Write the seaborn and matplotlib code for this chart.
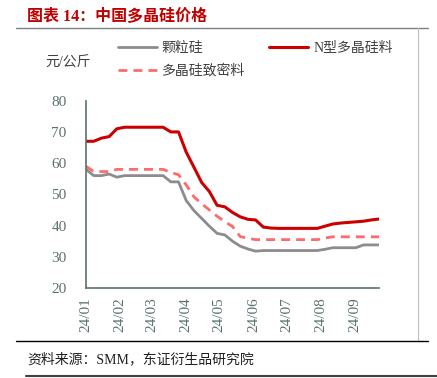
import pandas as pd
import numpy as np
import matplotlib
matplotlib.use("Agg")
import matplotlib.pyplot as plt
import matplotlib.dates as mdates
from matplotlib.lines import Line2D
import seaborn as sns

# weekly readings (Mondays), yuan/kg
dates = pd.date_range("2024-01-01", "2024-09-23", freq="7D")
granular = [58, 56, 56, 56.5, 55.5, 56, 56, 56, 56, 56, 56, 54, 54,
            48, 44.8, 42.3, 39.8, 37.5, 37, 35, 33.4, 32.5, 31.8, 32, 32,
            32, 32, 32, 32, 32, 32, 32.4, 32.9, 32.9, 32.9, 32.9, 33.8, 33.8, 33.8]
n_type = [67, 67, 68, 68.5, 71, 71.5, 71.5, 71.5, 71.5, 71.5, 71.5, 70, 70,
          63.5, 58.7, 53.8, 50.9, 46.5, 46, 44.2, 42.8, 42, 41.8, 39.5, 39.2,
          39.1, 39.1, 39.1, 39.1, 39.1, 39.1, 39.8, 40.5, 40.8, 41, 41.2, 41.4, 41.8, 42.1]
dense = [59, 57.3, 57.3, 57.3, 58, 58, 58, 58, 58, 58, 58, 57, 56.3,
         53, 49.2, 47, 45, 43, 41.3, 39.7, 36.5, 35.9, 35.5, 35.5, 35.5,
         35.5, 35.5, 35.5, 35.5, 35.5, 35.5, 36, 36.4, 36.4, 36.4, 36.4, 36.4, 36.4, 36.4]

df = pd.DataFrame({"date": dates, "颗粒硅": granular,
                   "N型多晶硅料": n_type, "多晶硅致密料": dense})

sns.set_style("white")
plt.rcParams["font.family"] = ["Liberation Serif", "Noto Sans CJK SC", "DejaVu Sans"]

axis_color = "#5b7070"
fig = plt.figure(figsize=(4.37, 3.78), dpi=100)
ax = fig.add_axes([86 / 437, 1 - 288 / 378, (379 - 86) / 437, (288 - 100.7) / 378])

sns.lineplot(data=df, x="date", y="颗粒硅", ax=ax, color="#8c8c8c", lw=2.0, label="颗粒硅")
sns.lineplot(data=df, x="date", y="多晶硅致密料", ax=ax, color="#ff6b6b", lw=2.0,
             label="多晶硅致密料")
sns.lineplot(data=df, x="date", y="N型多晶硅料", ax=ax, color="#cc0000", lw=2.2,
             label="N型多晶硅料")
ax.lines[1].set_dashes([3.2, 2.2])

ax.set_xlim(pd.Timestamp("2024-01-01"), pd.Timestamp("2024-09-23"))
ax.set_ylim(20, 80)
ax.set_yticks(range(20, 81, 10))
ax.xaxis.set_major_locator(mdates.MonthLocator())
ax.xaxis.set_major_formatter(mdates.DateFormatter("%y/%m"))
ax.set_xlabel("")
ax.set_ylabel("")
for lab in ax.get_xticklabels():
    lab.set_rotation(90)
ax.tick_params(direction="in", length=4, width=1, color=axis_color,
               labelcolor=axis_color, labelsize=11)
ax.tick_params(axis="y", pad=14)
ax.tick_params(axis="x", pad=7)
sns.despine(ax=ax)
for s in ["left", "bottom"]:
    ax.spines[s].set_color(axis_color)
    ax.spines[s].set_linewidth(1.2)

h, l = ax.get_legend_handles_labels()
leg = ax.legend(h, l, ncol=2,
                loc="upper left", bbox_to_anchor=(118 / 437, 1 - 42 / 378),
                bbox_transform=fig.transFigure, frameon=False, fontsize=10,
                handlelength=2.8, handletextpad=0.35, columnspacing=1.75,
                labelspacing=0.65, borderaxespad=0, borderpad=0)
for t in leg.get_texts():
    t.set_color("#404040")

fig.text(45 / 437, 1 - 63 / 378, "元/公斤", fontsize=10, color="#404040", va="center")
fig.text(27 / 437, 1 - 16 / 378, "图表 14：中国多晶硅价格", fontsize=11.5,
         fontweight="bold", color="#c00000", va="center")
fig.text(27 / 437, 1 - 359 / 378, "资料来源：SMM，东证衍生品研究院", fontsize=10,
         color="#202020", va="center")

# frame lines
fig.add_artist(Line2D([16 / 437, 428 / 437], [1 - 28 / 378] * 2, color="#7f7f7f", lw=1))
fig.add_artist(Line2D([418 / 437] * 2, [1 - 28 / 378, 1 - 341 / 378], color="#bfbfbf", lw=0.8))
fig.add_artist(Line2D([16 / 437, 428 / 437], [1 - 341 / 378] * 2, color="#000000", lw=1))
fig.add_artist(Line2D([26 / 437, 437 / 437], [1 - 376 / 378] * 2, color="#404040", lw=1.5))

fig.savefig("out.png", dpi=100)
